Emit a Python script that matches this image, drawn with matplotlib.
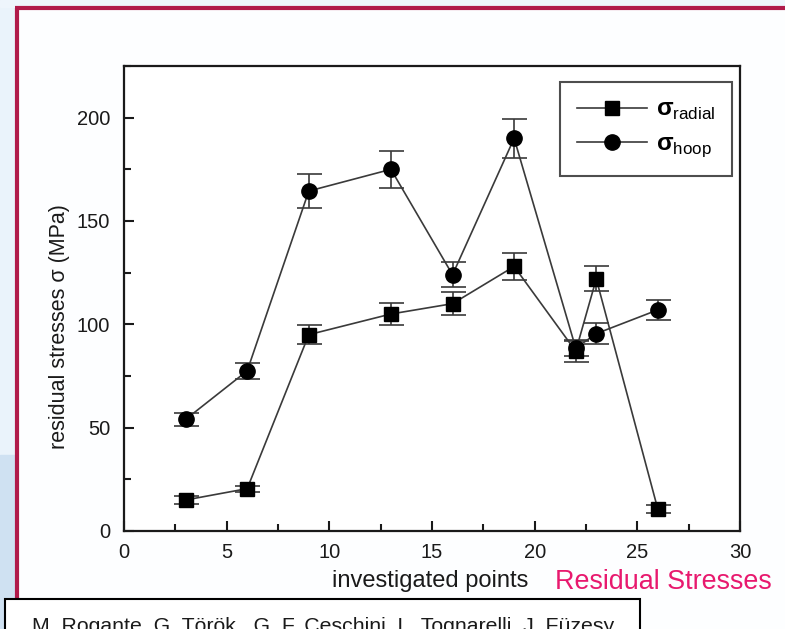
import matplotlib.pyplot as plt
from matplotlib.lines import Line2D
from matplotlib.patches import Rectangle

plt.rcParams['font.family'] = ['Liberation Sans', 'DejaVu Sans']
plt.rcParams['mathtext.fontset'] = 'custom'
plt.rcParams['mathtext.rm'] = 'Liberation Sans'
plt.rcParams['mathtext.bf'] = 'Liberation Sans:bold'

# data
points = [3, 6, 9, 13, 16, 19, 22, 23, 26]
radial = [15, 20.5, 95, 105, 110, 128, 87, 122, 10.5]
radial_err = [2, 1.5, 4.5, 5.5, 5.5, 6.5, 5, 6, 2]
hoop = [54, 77.5, 164.5, 175, 124, 190, 88.5, 95.5, 107]
hoop_err = [3, 4, 8, 9, 6, 9.5, 4, 5, 5]

W, H = 785, 629
fig = plt.figure(figsize=(W / 100, H / 100), dpi=100)
fig.patch.set_facecolor('#fdfeff')

# slide background on the left
fig.add_artist(Rectangle((0, 0), 17 / W, 1, transform=fig.transFigure,
                         color='#eaf3fb', zorder=0))
fig.add_artist(Rectangle((0, 0), 17 / W, 1 - 455 / H, transform=fig.transFigure,
                         color='#cfe1f2', zorder=0))
fig.add_artist(Rectangle((0, 1 - 7 / H), 1, 7 / H, transform=fig.transFigure,
                         color='#eef5fc', zorder=0))

# maroon frame
maroon = '#b01a4a'
fig.add_artist(Line2D([15 / W, 1], [1 - 8 / H, 1 - 8 / H], transform=fig.transFigure,
                      color=maroon, lw=3, solid_capstyle='butt'))
fig.add_artist(Line2D([17 / W, 17 / W], [1 - 8 / H, 1 - 599 / H], transform=fig.transFigure,
                      color=maroon, lw=3, solid_capstyle='butt'))

ax = fig.add_axes([124 / W, 1 - 531 / H, 616 / W, 465 / H])
ax.set_facecolor('white')

line_c = '#3a3a3a'
ax.errorbar(points, radial, yerr=radial_err, color=line_c, lw=1.2,
            marker='s', ms=10, mfc='black', mec='black',
            capsize=9, elinewidth=1.2, capthick=1.2, ecolor=line_c)
ax.errorbar(points, hoop, yerr=hoop_err, color=line_c, lw=1.2,
            marker='o', ms=11, mfc='black', mec='black',
            capsize=9, elinewidth=1.2, capthick=1.2, ecolor=line_c)

ax.set_xlim(0, 30)
ax.set_ylim(0, 225)
ax.set_xticks(range(0, 31, 5))
ax.set_xticks([2.5 + 5 * i for i in range(6)], minor=True)
ax.set_yticks(range(0, 201, 50))
ax.set_yticks([25, 75, 125, 175, 225], minor=True)
ax.tick_params(which='both', direction='in', width=1.5, labelsize=14.5,
               colors='#1a1a1a')
ax.tick_params(axis='y', pad=10)
ax.tick_params(axis='x', pad=9)
ax.tick_params(which='major', length=7)
ax.tick_params(which='minor', length=5)
for s in ax.spines.values():
    s.set_linewidth(1.6)
    s.set_color('#1a1a1a')

ax.set_xlabel('investigated points', fontsize=17, color='#1a1a1a')
ax.xaxis.set_label_coords((430 - 124) / 616, -(581 - 531) / 465)
ax.xaxis.label.set_va('center')
ax.set_ylabel('residual stresses σ (MPa)', fontsize=15.5, color='#1a1a1a')
ax.yaxis.set_label_coords(-(124 - 60) / 616, (531 - 327) / 465)
ax.yaxis.label.set_va('center')

handles = [
    Line2D([], [], color=line_c, lw=1.2, marker='s', ms=10, mfc='black', mec='black'),
    Line2D([], [], color=line_c, lw=1.2, marker='o', ms=11, mfc='black', mec='black'),
]
labels = [r'$\mathbf{\sigma}_{\mathrm{radial}}$', r'$\mathbf{\sigma}_{\mathrm{hoop}}$']
leg = ax.legend(handles, labels, loc='upper right',
                bbox_to_anchor=((732 - 124) / 616, (531 - 82) / 465),
                fontsize=17.5, frameon=True, fancybox=False, edgecolor='#222222',
                handlelength=2.9, handletextpad=0.35, borderpad=0.7,
                labelspacing=0.45, borderaxespad=0)
leg.get_frame().set_linewidth(1.5)

fig.text(555 / W, 1 - 582 / H, 'Residual Stresses', fontsize=19.4, color='#e8196e',
         ha='left', va='center')

# citation box, cut off at the bottom of the slide
fig.add_artist(Rectangle((5 / W, -0.05), 635 / W, 0.05 + 1 - 599 / H,
                         transform=fig.transFigure, facecolor='white',
                         edgecolor='black', lw=1.5, zorder=3))
fig.text(32 / W, 1 - 632 / H, 'M. Rogante, G. Török , G. F. Ceschini, L. Tognarelli, J. Füzesy',
         fontsize=15.3, color='#1a1a1a', ha='left', va='baseline', zorder=4)

fig.savefig('out.png', dpi=100)
